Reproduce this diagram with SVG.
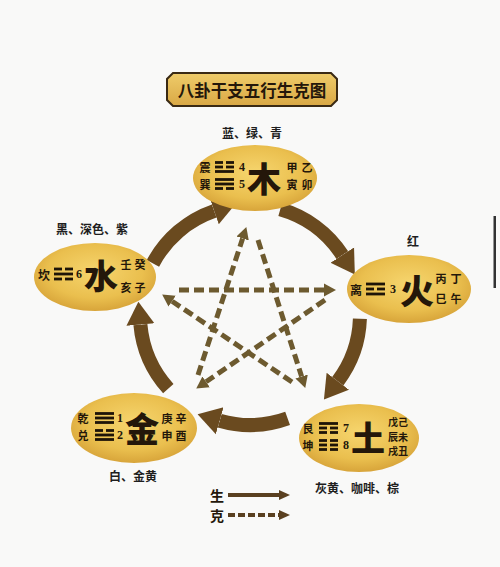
<svg xmlns="http://www.w3.org/2000/svg" xmlns:xlink="http://www.w3.org/1999/xlink" width="500" height="567" viewBox="0 0 500 567">
<defs>
<style>
.cjk{font-family:"Noto Sans CJK SC","Noto Sans",sans-serif;font-weight:bold;fill:#24170a;text-anchor:middle;dominant-baseline:central}
.sm{font-size:12px}
.xs{font-size:11px}
.big{font-size:34px;font-weight:900}
.num{font-family:"Liberation Serif",serif;font-weight:bold;font-size:12px;fill:#24170a;text-anchor:middle;dominant-baseline:central}
.lbl{font-size:12px;fill:#1e1e1e}
.node{fill:url(#gold)}
.tg{fill:#1e1408}
.sheng{fill:none;stroke:#6a4a1f;stroke-width:14;marker-end:url(#bigHead)}
.ke{fill:none;stroke:#6d5a2f;stroke-width:5;stroke-dasharray:10 5;marker-end:url(#smHead)}
</style>
<radialGradient id="gold" cx="50%" cy="42%" r="60%">
<stop offset="0" stop-color="#f6d56e"/>
<stop offset="0.65" stop-color="#eabf4e"/>
<stop offset="1" stop-color="#d6a238"/>
</radialGradient>
<linearGradient id="titleFill" x1="0" y1="0" x2="0" y2="1">
<stop offset="0" stop-color="#efcc6a"/>
<stop offset="1" stop-color="#d9a845"/>
</linearGradient>
<marker id="bigHead" markerUnits="userSpaceOnUse" viewBox="0 -15 24 30" markerWidth="24" markerHeight="30" refX="0" refY="0" orient="auto">
<path d="M0,-14 L23,0 L0,14 Z" fill="#6a4a1f"/>
</marker>
<marker id="smHead" markerUnits="userSpaceOnUse" viewBox="0 -7 13 14" markerWidth="13" markerHeight="14" refX="0" refY="0" orient="auto">
<path d="M0,-6.5 L12,0 L0,6.5 Z" fill="#6d5a2f"/>
</marker>
<marker id="legHead" markerUnits="userSpaceOnUse" viewBox="0 -6 12 12" markerWidth="12" markerHeight="12" refX="0" refY="0" orient="auto">
<path d="M0,-5 L11,0 L0,5 Z" fill="#5a4020"/>
</marker>
<g id="yang"><rect x="0" y="0" width="19" height="2.8"/></g>
<g id="yin"><rect x="0" y="0" width="8" height="2.8"/><rect x="11" y="0" width="8" height="2.8"/></g>
</defs>

<rect x="0" y="0" width="500" height="567" fill="#f9f9f8"/>
<rect x="493.5" y="216" width="2.5" height="72" fill="#333"/>

<g id="title">
<path d="M173,73 L331,73 L337,79 L337,100 L331,106 L173,106 L167,100 L167,79 Z" fill="url(#titleFill)" stroke="#3a2a14" stroke-width="2"/>
<text class="cjk" x="252" y="89.5" style="font-size:16.5px">八卦干支五行生克图</text>
</g>

<g id="connectors">
<path class="sheng" d="M152.9,263.4 A110,110 0 0 1 214.2,211.0"/>
<path class="sheng" d="M280.3,209.3 A110,110 0 0 1 342.3,255.1"/>
<path class="sheng" d="M359.9,318.8 A110,110 0 0 1 337.8,381.2"/>
<path class="sheng" d="M287.6,418.4 A110,110 0 0 1 219.7,420.7"/>
<path class="sheng" d="M168.3,388.6 A110,110 0 0 1 140.4,324.6"/>
<path class="ke" d="M179,290 L324,290"/>
<path class="ke" d="M258,240 L301.6,376.5"/>
<path class="ke" d="M198,375 L242.6,238.5"/>
<path class="ke" d="M325,300 L206.1,381.8"/>
<path class="ke" d="M292,382 L172.1,301.2"/>
</g>

<g id="node-wood">
<ellipse class="node" cx="255" cy="178" rx="62" ry="33"/>
<text class="cjk xs" x="205" y="167">震</text>
<g class="tg"><use xlink:href="#yin" x="215" y="161.1"/><use xlink:href="#yin" x="215" y="165.6"/><use xlink:href="#yang" x="215" y="170.1"/></g>
<text class="num" x="242" y="167">4</text>
<text class="cjk xs" x="205" y="184">巽</text>
<g class="tg"><use xlink:href="#yang" x="215" y="178.1"/><use xlink:href="#yang" x="215" y="182.6"/><use xlink:href="#yin" x="215" y="187.1"/></g>
<text class="num" x="242" y="184">5</text>
<text class="cjk big" x="264" y="177">木</text>
<text class="cjk xs" x="292" y="167">甲</text>
<text class="cjk xs" x="307" y="167">乙</text>
<text class="cjk xs" x="292" y="184">寅</text>
<text class="cjk xs" x="307" y="184">卯</text>
</g>

<g id="node-fire">
<ellipse class="node" cx="409" cy="289" rx="62" ry="34"/>
<text class="cjk sm" x="356" y="289">离</text>
<g class="tg"><use xlink:href="#yang" x="366" y="282.6"/><use xlink:href="#yin" x="366" y="287.6"/><use xlink:href="#yang" x="366" y="292.6"/></g>
<text class="num" x="393" y="289">3</text>
<text class="cjk big" x="417" y="289">火</text>
<text class="cjk xs" x="441" y="278">丙</text>
<text class="cjk xs" x="456" y="278">丁</text>
<text class="cjk xs" x="441" y="298">巳</text>
<text class="cjk xs" x="456" y="298">午</text>
</g>

<g id="node-water">
<ellipse class="node" cx="95" cy="277" rx="61" ry="34"/>
<text class="cjk sm" x="44" y="274">坎</text>
<g class="tg"><use xlink:href="#yin" x="54" y="267.6"/><use xlink:href="#yang" x="54" y="272.6"/><use xlink:href="#yin" x="54" y="277.6"/></g>
<text class="num" x="79" y="274">6</text>
<text class="cjk big" x="101" y="274">水</text>
<text class="cjk xs" x="126" y="264">壬</text>
<text class="cjk xs" x="140" y="264">癸</text>
<text class="cjk xs" x="126" y="287">亥</text>
<text class="cjk xs" x="140" y="287">子</text>
</g>

<g id="node-metal">
<ellipse class="node" cx="134" cy="428" rx="63" ry="35"/>
<text class="cjk xs" x="83" y="418">乾</text>
<g class="tg"><use xlink:href="#yang" x="95" y="412.1"/><use xlink:href="#yang" x="95" y="416.6"/><use xlink:href="#yang" x="95" y="421.1"/></g>
<text class="num" x="120" y="418">1</text>
<text class="cjk xs" x="83" y="435">兑</text>
<g class="tg"><use xlink:href="#yin" x="95" y="429.1"/><use xlink:href="#yang" x="95" y="433.6"/><use xlink:href="#yang" x="95" y="438.1"/></g>
<text class="num" x="120" y="435">2</text>
<text class="cjk big" x="142" y="427">金</text>
<text class="cjk xs" x="167" y="418">庚</text>
<text class="cjk xs" x="181" y="418">辛</text>
<text class="cjk xs" x="167" y="435">申</text>
<text class="cjk xs" x="181" y="435">酉</text>
</g>

<g id="node-earth">
<ellipse class="node" cx="359" cy="438" rx="60" ry="34"/>
<text class="cjk xs" x="308" y="428">艮</text>
<g class="tg"><use xlink:href="#yang" x="319" y="422.1"/><use xlink:href="#yin" x="319" y="426.6"/><use xlink:href="#yin" x="319" y="431.1"/></g>
<text class="num" x="346" y="428">7</text>
<text class="cjk xs" x="308" y="445">坤</text>
<g class="tg"><use xlink:href="#yin" x="319" y="439.1"/><use xlink:href="#yin" x="319" y="443.6"/><use xlink:href="#yin" x="319" y="448.1"/></g>
<text class="num" x="346" y="445">8</text>
<text class="cjk big" x="368" y="436">土</text>
<text class="cjk" x="398" y="421.5" style="font-size:10px">戊己</text>
<text class="cjk" x="398" y="436.2" style="font-size:10px">辰未</text>
<text class="cjk" x="398" y="450.9" style="font-size:10px">戌丑</text>
</g>

<g id="color-labels">
<text class="cjk lbl" x="252" y="132">蓝、绿、青</text>
<text class="cjk lbl" x="413" y="240">红</text>
<text class="cjk lbl" x="92" y="228">黑、深色、紫</text>
<text class="cjk lbl" x="133" y="475">白、金黄</text>
<text class="cjk lbl" x="357" y="487">灰黄、咖啡、棕</text>
</g>

<g id="legend">
<text class="cjk" x="217" y="495" style="font-size:14px">生</text>
<path d="M228,495 L279,495" fill="none" stroke="#5a4020" stroke-width="4" marker-end="url(#legHead)"/>
<text class="cjk" x="217" y="515" style="font-size:14px">克</text>
<path d="M228,515 L279,515" fill="none" stroke="#5a4020" stroke-width="4" stroke-dasharray="7 3" marker-end="url(#legHead)"/>
</g>
</svg>
